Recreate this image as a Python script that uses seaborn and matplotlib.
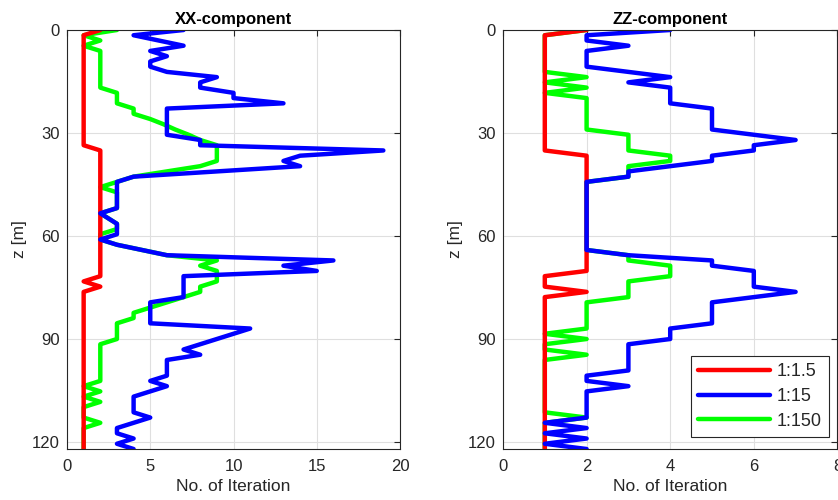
import numpy as np
import pandas as pd
import matplotlib
matplotlib.use("Agg")
import matplotlib.pyplot as plt
from matplotlib.lines import Line2D
import seaborn as sns

# depth of each model layer [m]
depth = np.linspace(0, 122, 81)

ratios = ["1:1.5", "1:15", "1:150"]
colors = {"1:1.5": "#ff0000", "1:15": "#0000ff", "1:150": "#00ff00"}

# XX-component: number of iterations per layer
xx_r = [2, 1, 1, 1, 1, 1, 1, 1, 1, 1,
        1, 1, 1, 1, 1, 1, 1, 1, 1, 1,
        1, 1, 1, 2, 2, 2, 2, 2, 2, 2,
        2, 2, 2, 2, 2, 2, 2, 2, 2, 2,
        2, 2, 2, 2, 2, 2, 2, 2, 1, 2,
        1, 1, 1, 1, 1, 1, 1, 1, 1, 1,
        1, 1, 1, 1, 1, 1, 1, 1, 1, 1,
        1, 1, 1, 1, 1, 1, 1, 1, 1, 1,
        1]
xx_b = [7, 4, 5.5, 7, 5, 6, 5, 5, 6, 9,
        8, 8, 10, 10, 13, 6, 6, 6, 6, 6,
        6, 8, 8, 19, 14, 13, 14, 9, 4, 3,
        3, 3, 3, 3, 3, 2, 2.5, 3, 3, 3,
        2, 3, 4.5, 6, 16, 13, 15, 7, 7, 7,
        7, 7, 5, 5, 5, 5, 5, 11, 10, 9,
        8, 7, 8, 6, 6, 6, 6, 5, 6, 5,
        4, 4, 4, 4, 5, 4, 3, 3, 4, 3,
        4]
xx_g = [3, 1, 2, 1, 2, 2, 2, 2, 2, 2,
        2, 2, 3, 3, 3, 4, 4, 5, 5.8, 6.5,
        7.3, 8, 9, 9, 9, 9, 8, 6, 4, 3,
        2, 3, 3, 3, 3, 2, 2.5, 3, 3, 2,
        2, 3, 4.5, 6, 9, 8, 9, 9, 9, 8,
        8, 7, 6, 5, 4, 4, 3, 3, 3, 3,
        2, 2, 2, 2, 2, 2, 2, 2, 1, 2,
        1, 2, 1, 1, 1, 2, 1, 1, 1, 1,
        1]

# ZZ-component: number of iterations per layer
zz_r = [2, 1, 1, 1, 1, 1, 1, 1, 1, 1,
        1, 1, 1, 1, 1, 1, 1, 1, 1, 1,
        1, 1, 1, 1, 2, 2, 2, 2, 2, 2,
        2, 2, 2, 2, 2, 2, 2, 2, 2, 2,
        2, 2, 2, 2, 2, 2, 2, 1, 1, 1,
        2, 1, 1, 1, 1, 1, 1, 1, 1, 1,
        1, 1, 1, 1, 1, 1, 1, 1, 1, 1,
        1, 1, 1, 1, 1, 1, 1, 1, 1, 1,
        1]
zz_b = [4, 2, 2, 3, 2, 2, 2, 2, 3, 4,
        3, 4, 4, 4, 4, 5, 5, 5, 5, 5,
        6, 7, 6, 6, 5, 5, 4, 3, 3, 2,
        2, 2, 2, 2, 2, 2, 2, 2, 2, 2,
        2, 2, 2, 3, 5, 5, 6, 6, 6, 6,
        7, 6, 5, 5, 5, 5, 5, 4, 4, 4,
        3, 3, 3, 3, 3, 3, 2, 2, 3, 2,
        2, 2, 2, 2, 2, 1, 2, 1, 2, 1,
        2]
zz_g = [2, 1, 1, 1, 1, 1, 1, 1, 1, 2,
        1, 2, 1, 2, 2, 2, 2, 2, 2, 2,
        3, 3, 3, 3, 4, 4, 3, 3, 3, 2,
        2, 2, 2, 2, 2, 2, 2, 2, 2, 2,
        2, 2, 2, 3, 3, 4, 4, 4, 3, 3,
        3, 3, 2, 2, 2, 2, 2, 2, 1, 2,
        1, 1, 2, 1, 1, 1, 1, 1, 1, 1,
        1, 1, 1, 1, 2, 1, 1, 1, 1, 1,
        1]

panels = [
    ("XX-component", {"1:1.5": xx_r, "1:15": xx_b, "1:150": xx_g}, 20, [0, 5, 10, 15, 20]),
    ("ZZ-component", {"1:1.5": zz_r, "1:15": zz_b, "1:150": zz_g}, 8, [0, 2, 4, 6, 8]),
]

sns.set_style("white")
plt.rcParams["font.family"] = ["Liberation Sans", "DejaVu Sans"]

ink = "#262626"
lw = 3.2
fig = plt.figure(figsize=(8.38, 5.0), dpi=100)
axes = [fig.add_axes([67 / 838, 51 / 500, 333 / 838, 419 / 500]),
        fig.add_axes([503 / 838, 51 / 500, 334.4 / 838, 419 / 500])]

# drawing order: green underneath, red above it, blue on top
layer = {"1:150": 2.0, "1:1.5": 2.1, "1:15": 2.2}

for ax, (title, series, xmax, xticks) in zip(axes, panels):
    df = pd.DataFrame({"depth": depth, **series})
    for name in ["1:150", "1:1.5", "1:15"]:
        sns.lineplot(data=df, x=name, y="depth", orient="y", sort=False,
                     estimator=None, color=colors[name], lw=lw, ax=ax,
                     legend=False, zorder=layer[name])
    ax.set_xlim(0, xmax)
    ax.set_ylim(122, 0)
    ax.set_xticks(xticks)
    ax.set_yticks([0, 30, 60, 90, 120])
    ax.grid(True, color="#dfdfdf", lw=0.8)
    ax.set_axisbelow(True)
    ax.tick_params(direction="in", top=True, right=True, length=4, width=0.8,
                   colors=ink, labelsize=12)
    ax.tick_params(axis="x", pad=7)
    ax.tick_params(axis="y", pad=5)
    for s in ax.spines.values():
        s.set_visible(True)
        s.set_color(ink)
        s.set_linewidth(0.8)
        s.set_zorder(3)
    ax.set_xlabel("No. of Iteration", fontsize=12.5, color=ink, labelpad=4)
    ax.set_ylabel("z [m]", fontsize=12.5, color=ink, labelpad=4)
    ax.set_title(title, fontsize=12, fontweight="bold", color="black", pad=4)

handles = [Line2D([0], [0], color=colors[n], lw=lw) for n in ratios]
leg = axes[1].legend(handles, ratios, loc="lower right", bbox_to_anchor=(0.975, 0.029),
                     fontsize=13, handlelength=4.0, handletextpad=0.35,
                     labelspacing=0.42, borderpad=0.4, borderaxespad=0,
                     frameon=True, fancybox=False, framealpha=1, edgecolor=ink)
leg.get_frame().set_linewidth(0.8)
for t in leg.get_texts():
    t.set_color(ink)

fig.savefig("out.png", dpi=100)
